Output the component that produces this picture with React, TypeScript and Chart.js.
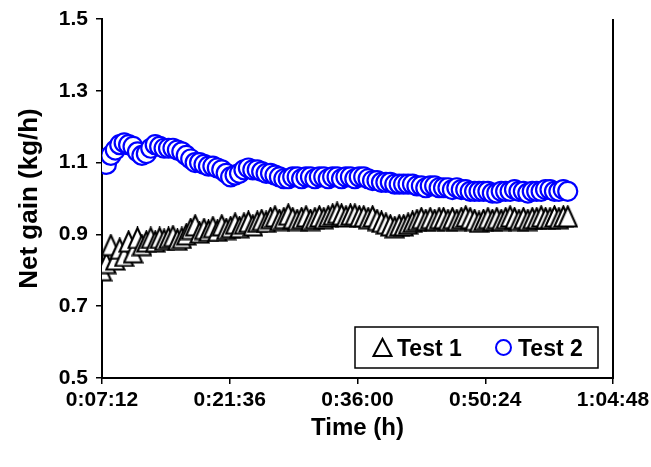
import React, { useEffect, useRef } from 'react';
import { Chart, registerables } from 'chart.js';

Chart.register(...registerables);

// Elapsed time of each reading, in seconds
const timeSeconds = [
  432, 462, 492, 522, 552, 582, 612, 642, 672, 702,
  732, 762, 792, 822, 852, 882, 912, 942, 972, 1002,
  1032, 1062, 1092, 1122, 1152, 1182, 1212, 1242, 1272, 1302,
  1332, 1362, 1392, 1422, 1452, 1482, 1512, 1542, 1572, 1602,
  1632, 1662, 1692, 1722, 1752, 1782, 1812, 1842, 1872, 1902,
  1932, 1962, 1992, 2022, 2052, 2082, 2112, 2142, 2172, 2202,
  2232, 2262, 2292, 2322, 2352, 2382, 2412, 2442, 2472, 2502,
  2532, 2562, 2592, 2622, 2652, 2682, 2712, 2742, 2772, 2802,
  2832, 2862, 2892, 2922, 2952, 2982, 3012, 3042, 3072, 3102,
  3132, 3162, 3192, 3222, 3252, 3282, 3312, 3342, 3372, 3402,
  3432, 3462, 3492, 3522, 3552, 3582,
];

// Net gain (kg/h), Test 1
const test1 = [
  0.80, 0.82, 0.87, 0.83, 0.86, 0.84, 0.88, 0.85, 0.89, 0.87,
  0.88, 0.89, 0.88, 0.89, 0.885, 0.89, 0.895, 0.885, 0.89, 0.90,
  0.915, 0.925, 0.905, 0.915, 0.91, 0.92, 0.91, 0.925, 0.915, 0.92,
  0.93, 0.92, 0.93, 0.935, 0.925, 0.935, 0.94, 0.935, 0.945, 0.95,
  0.94, 0.945, 0.955, 0.945, 0.94, 0.945, 0.95, 0.94, 0.945, 0.95,
  0.945, 0.95, 0.955, 0.96, 0.955, 0.95, 0.955, 0.955, 0.95, 0.95,
  0.945, 0.95, 0.94, 0.935, 0.93, 0.925, 0.92, 0.925, 0.925, 0.93,
  0.935, 0.94, 0.945, 0.94, 0.945, 0.94, 0.945, 0.945, 0.94, 0.945,
  0.94, 0.945, 0.95, 0.945, 0.94, 0.935, 0.94, 0.945, 0.94, 0.945,
  0.94, 0.945, 0.95, 0.945, 0.94, 0.945, 0.94, 0.945, 0.945, 0.95,
  0.945, 0.945, 0.95, 0.945, 0.95, 0.95,
];

// Net gain (kg/h), Test 2
const test2 = [
  1.10, 1.095, 1.12, 1.135, 1.15, 1.155, 1.15, 1.145, 1.13, 1.12,
  1.125, 1.14, 1.15, 1.145, 1.14, 1.14, 1.14, 1.135, 1.13, 1.12,
  1.11, 1.10, 1.10, 1.095, 1.09, 1.09, 1.085, 1.08, 1.07, 1.06,
  1.065, 1.07, 1.08, 1.085, 1.08, 1.08, 1.075, 1.07, 1.07, 1.065,
  1.06, 1.055, 1.055, 1.06, 1.06, 1.055, 1.06, 1.06, 1.055, 1.06,
  1.06, 1.055, 1.06, 1.06, 1.055, 1.06, 1.06, 1.055, 1.06, 1.06,
  1.055, 1.05, 1.05, 1.045, 1.045, 1.045, 1.04, 1.04, 1.04, 1.04,
  1.04, 1.035, 1.035, 1.03, 1.035, 1.035, 1.03, 1.03, 1.03, 1.025,
  1.03, 1.025, 1.025, 1.02, 1.02, 1.02, 1.02, 1.02, 1.015, 1.015,
  1.02, 1.02, 1.02, 1.025, 1.02, 1.02, 1.015, 1.02, 1.02, 1.02,
  1.025, 1.025, 1.02, 1.02, 1.025, 1.02,
];

const seriesLabels = ['Test 1', 'Test 2'];

const xTickValues = [432, 1296, 2160, 3024, 3888];
const xTickLabels = ['0:07:12', '0:21:36', '0:36:00', '0:50:24', '1:04:48'];
const yTickValues = [0.5, 0.7, 0.9, 1.1, 1.3, 1.5];
const yTickLabels = ['0.5', '0.7', '0.9', '1.1', '1.3', '1.5'];

const FONT = "'Liberation Sans', Arial, sans-serif";

function makeTriangle(w: number, h: number, lw: number): HTMLCanvasElement {
  const c = document.createElement('canvas');
  c.width = w + 3;
  c.height = h + 3;
  const g = c.getContext('2d')!;
  g.beginPath();
  g.moveTo(1.5, h + 1.5);
  g.lineTo(1.5 + w / 2, 1.5);
  g.lineTo(1.5 + w, h + 1.5);
  g.closePath();
  g.fillStyle = '#ffffff';
  g.fill();
  g.lineWidth = lw;
  g.lineJoin = 'miter';
  g.strokeStyle = '#000000';
  g.stroke();
  return c;
}

const framePlugin = {
  id: 'frameAndLegend',
  afterDraw(chart: any) {
    const { ctx, chartArea } = chart;
    ctx.save();
    // right border of plot area
    ctx.strokeStyle = '#000';
    ctx.lineWidth = 2;
    ctx.beginPath();
    ctx.moveTo(chartArea.right, chartArea.top);
    ctx.lineTo(chartArea.right, chartArea.bottom + 1);
    ctx.stroke();

    // legend box
    const bx = 355, by = 327, bw = 243, bh = 41;
    ctx.fillStyle = '#fff';
    ctx.fillRect(bx, by, bw, bh);
    ctx.lineWidth = 1.5;
    ctx.strokeStyle = '#000';
    ctx.strokeRect(bx, by, bw, bh);

    const ds = chart.data.datasets;
    ctx.font = `bold 23px ${FONT}`;
    ctx.fillStyle = '#000';
    ctx.textBaseline = 'alphabetic';
    ctx.textAlign = 'left';

    // Test 1 symbol: triangle
    const cy = by + bh / 2;
    ctx.beginPath();
    ctx.moveTo(373.5, cy + 8.5);
    ctx.lineTo(382.5, cy - 8.5);
    ctx.lineTo(391.5, cy + 8.5);
    ctx.closePath();
    ctx.fillStyle = '#fff';
    ctx.fill();
    ctx.lineWidth = 2;
    ctx.strokeStyle = '#000';
    ctx.stroke();
    ctx.fillStyle = '#000';
    ctx.fillText(ds[0].label, 397, cy + 8);

    // Test 2 symbol: circle
    ctx.beginPath();
    ctx.arc(503.5, cy, 7.5, 0, Math.PI * 2);
    ctx.fillStyle = '#fff';
    ctx.fill();
    ctx.lineWidth = 2;
    ctx.strokeStyle = ds[1].borderColor;
    ctx.stroke();
    ctx.fillStyle = '#000';
    ctx.fillText(ds[1].label, 518, cy + 8);
    ctx.restore();
  },
};

export default function App() {
  const ref = useRef<HTMLCanvasElement>(null);

  useEffect(() => {
    document.body.style.margin = '0';
    const canvas = ref.current;
    if (!canvas) return;
    const tri = makeTriangle(18, 20, 2.1);

    const chart = new Chart(canvas, {
      type: 'scatter',
      data: {
        datasets: [
          {
            label: seriesLabels[0],
            data: timeSeconds.map((t, i) => ({ x: t, y: test1[i] })),
            pointStyle: tri as any,
            pointRadius: 10,
            borderColor: '#000000',
            backgroundColor: '#ffffff',
            showLine: false,
            order: 2,
          },
          {
            label: seriesLabels[1],
            data: timeSeconds.map((t, i) => ({ x: t, y: test2[i] })),
            pointStyle: 'circle',
            pointRadius: 9.5,
            pointBorderWidth: 2.2,
            borderColor: '#0000ff',
            backgroundColor: '#ffffff',
            showLine: false,
            order: 1,
          },
        ],
      },
      options: {
        animation: false,
        responsive: false,
        events: [],
        layout: { padding: { top: 19, right: 38, left: 0, bottom: 0 } },
        plugins: {
          legend: { display: false },
          tooltip: { enabled: false },
        },
        scales: {
          x: {
            type: 'linear',
            min: 432,
            max: 3888,
            afterBuildTicks: (s: any) => {
              s.ticks = xTickValues.map((v) => ({ value: v }));
            },
            afterFit: (s: any) => {
              s.height = 89;
              s.paddingLeft = 0;
              s.paddingRight = 0;
            },
            ticks: {
              callback: (_v: any, i: number) => xTickLabels[i],
              font: { family: FONT, size: 21, weight: 'bold' },
              color: '#000',
              padding: 4,
              maxRotation: 0,
              autoSkip: false,
            },
            grid: {
              drawOnChartArea: false,
              drawTicks: true,
              tickLength: 6,
              color: '#000',
              lineWidth: 1.5,
            },
            border: { display: true, color: '#000', width: 2 },
            title: {
              display: true,
              text: 'Time (h)',
              font: { family: FONT, size: 24, weight: 'bold' },
              color: '#000',
              padding: { top: 0, bottom: 24 },
            },
          },
          y: {
            type: 'linear',
            min: 0.5,
            max: 1.5,
            afterBuildTicks: (s: any) => {
              s.ticks = yTickValues.map((v) => ({ value: v }));
            },
            afterFit: (s: any) => {
              s.width = 102;
              s.paddingTop = 0;
              s.paddingBottom = 0;
            },
            ticks: {
              callback: (_v: any, i: number) => yTickLabels[i],
              font: { family: FONT, size: 21, weight: 'bold' },
              color: '#000',
              padding: 8,
            },
            grid: {
              drawOnChartArea: false,
              drawTicks: true,
              tickLength: 6,
              color: '#000',
              lineWidth: 1.5,
            },
            border: { display: true, color: '#000', width: 2 },
            title: {
              display: true,
              text: 'Net gain (kg/h)',
              font: { family: FONT, size: 26, weight: 'bold' },
              color: '#000',
              padding: { top: 14, bottom: 0 },
            },
          },
        },
      },
      plugins: [framePlugin],
    });

    return () => chart.destroy();
  }, []);

  return (
    <div style={{ position: 'absolute', left: 0, top: 0, width: 651, height: 467 }}>
      <canvas ref={ref} width={651} height={467} />
    </div>
  );
}
